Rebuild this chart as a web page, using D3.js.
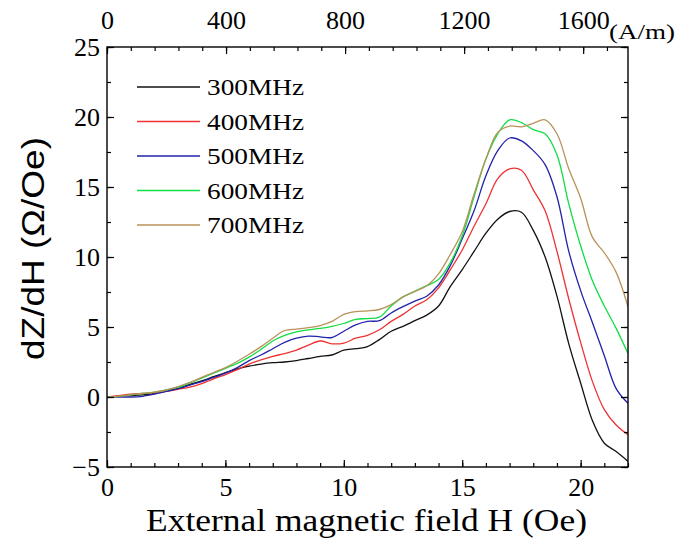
<!DOCTYPE html>
<html>
<head>
<meta charset="utf-8">
<script src="https://cdn.jsdelivr.net/npm/d3@7/dist/d3.min.js"></script>
<style>
  html, body { margin: 0; padding: 0; background: #fff; }
  svg { display: block; }
</style>
</head>
<body>
<svg id="chart" width="676" height="543"></svg>
<script>
// Field values (Oe) at which dZ/dH was sampled
const fieldOe = [0,0.5,1,1.5,2,2.5,3,3.5,4,4.5,5,5.5,6,6.5,7,7.5,8,8.5,9,9.5,10,10.5,11,11.5,12,12.5,13,13.5,14,14.5,15,15.5,16,16.5,17,17.5,18,18.5,19,19.5,20,20.5,21,21.5,22];

// dZ/dH (Ω/Oe) for each drive frequency
const f300 = [0,0.05,0.1,0.15,0.25,0.45,0.6,0.9,1.15,1.45,1.75,2.0,2.2,2.35,2.45,2.5,2.6,2.75,2.9,3.0,3.35,3.45,3.6,4.1,4.7,5.05,5.45,5.85,6.5,7.9,9.1,10.4,11.7,12.7,13.25,13.2,11.9,10.0,7.2,3.8,1.0,-1.7,-3.3,-3.9,-4.6];
const f400 = [0,0.1,0.2,0.25,0.3,0.4,0.55,0.7,0.95,1.3,1.6,1.95,2.35,2.65,2.9,3.1,3.35,3.7,4.0,3.8,3.85,4.2,4.4,4.8,5.4,5.9,6.5,6.95,7.8,9.1,10.5,12.2,13.8,15.6,16.3,16.2,14.8,13.3,10.4,7.0,3.9,1.1,-0.9,-2.0,-2.7];
const f500 = [0,0,0,0.05,0.2,0.4,0.6,0.85,1.1,1.4,1.7,2.1,2.6,3.0,3.45,3.9,4.2,4.35,4.3,4.25,4.7,5.15,5.4,5.45,6.0,6.45,6.85,7.2,8.0,9.4,11.3,13.3,15.8,17.6,18.5,18.3,17.6,16.6,14.3,10.4,7.6,5.3,2.95,0.6,-0.45];
const f600 = [0,0.05,0.15,0.25,0.35,0.5,0.7,1.0,1.35,1.7,2.05,2.4,2.85,3.4,4.0,4.4,4.65,4.8,4.9,5.05,5.25,5.55,5.6,5.7,6.5,7.15,7.55,7.95,8.4,9.6,11.5,14.3,17.0,18.8,19.8,19.6,19.1,18.8,17.3,13.8,10.8,8.3,6.5,4.9,3.1];
const f700 = [0,0.05,0.15,0.25,0.35,0.5,0.75,1.05,1.4,1.75,2.1,2.55,3.05,3.6,4.2,4.75,4.85,4.95,5.1,5.4,5.9,6.1,6.15,6.25,6.6,7.15,7.55,7.95,8.8,10.2,11.8,14.5,17.0,18.9,19.35,19.3,19.55,19.8,18.8,16.3,14.2,11.4,10.3,8.9,6.45];

const seriesNames = ["300MHz","400MHz","500MHz","600MHz","700MHz"];
const seriesValues = [f300, f400, f500, f600, f700];
const seriesColors = ["#111111","#ee3333","#2222aa","#11dd44","#b8925a"];

// Axis ticks
const bottomTicks = [0,5,10,15,20];
const leftTicks = [-5,0,5,10,15,20,25];
const topTicksAm = [0,400,800,1200,1600];
const OE_TO_AM = 1000 / (4 * Math.PI); // 1 Oe = 79.577 A/m

const svg = d3.select("#chart");
const m = { left: 107, right: 628, top: 47, bottom: 467 };

const x = d3.scaleLinear().domain([0, 22]).range([m.left, m.right]);
const y = d3.scaleLinear().domain([-5, 25]).range([m.bottom, m.top]);
const xAm = d3.scaleLinear().domain([0, 22 * OE_TO_AM]).range([m.left, m.right]);

const serif = "Liberation Serif, Times New Roman, serif";
const sans = "Liberation Sans, Arial, sans-serif";

// Curves, clipped to the plot frame
svg.append("clipPath").attr("id", "plotClip")
  .append("rect").attr("x", m.left).attr("y", m.top)
  .attr("width", m.right - m.left).attr("height", m.bottom - m.top);

const line = d3.line()
  .x((d, i) => x(fieldOe[i]))
  .y(d => y(d))
  .curve(d3.curveCatmullRom.alpha(0.5));

const curves = svg.append("g").attr("clip-path", "url(#plotClip)");
seriesValues.forEach((vals, k) => {
  curves.append("path")
    .datum(vals)
    .attr("fill", "none")
    .attr("stroke", seriesColors[k])
    .attr("stroke-width", 1.3)
    .attr("d", line);
});

// Axes with inward ticks
function styleAxis(g) {
  g.attr("font-family", serif).attr("font-size", 26);
  g.select(".domain").remove();
  g.selectAll("line").attr("stroke", "#000").attr("stroke-width", 1.2);
  g.selectAll("text").attr("fill", "#000");
}

// Bottom: minor ticks every 1 Oe
svg.append("g").attr("transform", `translate(0,${m.bottom})`)
  .call(d3.axisTop(x).tickValues(d3.range(0, 23, 1)).tickSize(4).tickFormat(""))
  .call(styleAxis);
svg.append("g").attr("transform", `translate(0,${m.bottom})`)
  .call(d3.axisTop(x).tickValues(bottomTicks).tickSize(7).tickFormat(""))
  .call(styleAxis);
svg.append("g").attr("transform", `translate(0,${m.bottom})`)
  .call(d3.axisBottom(x).tickValues(bottomTicks).tickSize(0).tickPadding(11).tickFormat(d3.format("d")))
  .call(styleAxis);

// Left: minor ticks every 2.5
svg.append("g").attr("transform", `translate(${m.left},0)`)
  .call(d3.axisRight(y).tickValues(d3.range(-5, 25.1, 2.5)).tickSize(4).tickFormat(""))
  .call(styleAxis);
svg.append("g").attr("transform", `translate(${m.left},0)`)
  .call(d3.axisRight(y).tickValues(leftTicks).tickSize(7).tickFormat(""))
  .call(styleAxis);
svg.append("g").attr("transform", `translate(${m.left},0)`)
  .call(d3.axisLeft(y).tickValues(leftTicks).tickSize(0).tickPadding(7).tickFormat(d => d < 0 ? "\u2212" + Math.abs(d) : d))
  .call(styleAxis);

// Right: ticks only
svg.append("g").attr("transform", `translate(${m.right},0)`)
  .call(d3.axisLeft(y).tickValues(d3.range(-5, 25.1, 2.5)).tickSize(4).tickFormat(""))
  .call(styleAxis);
svg.append("g").attr("transform", `translate(${m.right},0)`)
  .call(d3.axisLeft(y).tickValues(leftTicks).tickSize(7).tickFormat(""))
  .call(styleAxis);

// Top: field in A/m, minor ticks every 80 A/m
svg.append("g").attr("transform", `translate(0,${m.top})`)
  .call(d3.axisBottom(xAm).tickValues(d3.range(0, 1750, 80)).tickSize(4).tickFormat(""))
  .call(styleAxis);
svg.append("g").attr("transform", `translate(0,${m.top})`)
  .call(d3.axisBottom(xAm).tickValues(topTicksAm).tickSize(7).tickFormat(""))
  .call(styleAxis);
svg.append("g").attr("transform", `translate(0,${m.top})`)
  .call(d3.axisTop(xAm).tickValues(topTicksAm).tickSize(0).tickPadding(18).tickFormat(d3.format("d")))
  .call(styleAxis);

svg.append("text")
  .attr("x", 609).attr("y", 39)
  .attr("font-family", serif).attr("font-size", 21)
  .attr("textLength", 66).attr("lengthAdjust", "spacingAndGlyphs")
  .text("(A/m)");

// Plot frame
svg.append("rect")
  .attr("x", m.left).attr("y", m.top)
  .attr("width", m.right - m.left).attr("height", m.bottom - m.top)
  .attr("fill", "none").attr("stroke", "#000").attr("stroke-width", 1.4);

// Axis titles
svg.append("text")
  .attr("x", 146).attr("y", 531)
  .attr("font-family", serif).attr("font-size", 32)
  .attr("textLength", 441).attr("lengthAdjust", "spacingAndGlyphs")
  .text("External magnetic field H (Oe)");

svg.append("text")
  .attr("transform", `translate(44,360) rotate(-90)`)
  .attr("font-family", sans).attr("font-size", 32)
  .attr("textLength", 223).attr("lengthAdjust", "spacingAndGlyphs")
  .text("dZ/dH (\u03A9/Oe)");

// Legend
const legend = svg.append("g");
seriesNames.forEach((name, k) => {
  const ly = 87 + k * 34.5;
  legend.append("line")
    .attr("x1", 137).attr("x2", 200).attr("y1", ly).attr("y2", ly)
    .attr("stroke", seriesColors[k]).attr("stroke-width", 1.3);
  legend.append("text")
    .attr("x", 207).attr("y", ly).attr("dy", "0.35em")
    .attr("font-family", serif).attr("font-size", 24)
    .attr("textLength", 97).attr("lengthAdjust", "spacingAndGlyphs")
    .text(name);
});
</script>
</body>
</html>
